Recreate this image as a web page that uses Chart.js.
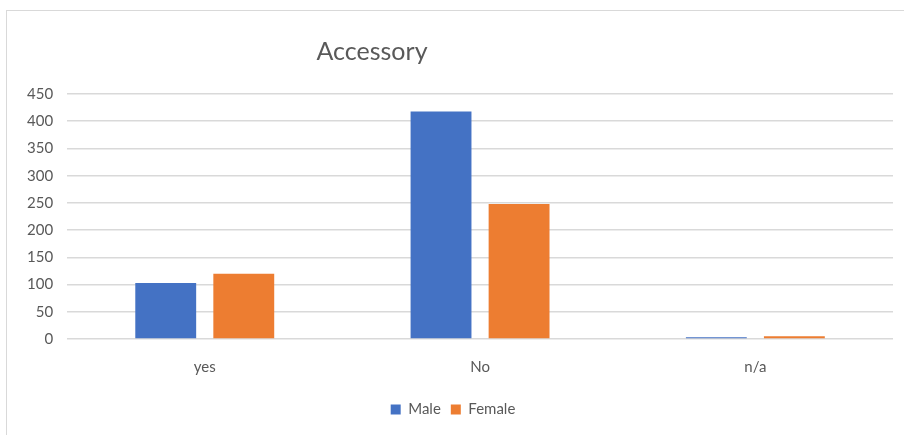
<!DOCTYPE html>
<html>
<head>
<meta charset="utf-8">
<script src="https://cdn.jsdelivr.net/npm/chart.js@4/dist/chart.umd.min.js"></script>
<style>
  html, body { margin: 0; padding: 0; background: #fff; }
  #wrap { position: relative; width: 904px; height: 435px; overflow: hidden; }
  #frame { position: absolute; left: 6px; top: 10px; width: 1000px; height: 1000px; border: 1px solid #d9d9d9; box-sizing: border-box; }
  canvas { position: absolute; left: 0; top: 0; }
</style>
</head>
<body>
<div id="wrap">
  <div id="frame"></div>
  <canvas id="bar-chart" width="904" height="435"></canvas>
</div>
<script>
const chartTitle = 'Accessory';
const categories = ['yes', 'No', 'n/a'];
const maleValues = [103, 418, 3];
const femaleValues = [120, 248, 5];
const yTicks = [0, 50, 100, 150, 200, 250, 300, 350, 400, 450];

const FONT = 'Lato, "Open Sans", sans-serif';

// title sits left of centre in the original, so draw it ourselves
const titlePlugin = {
  id: 'offsetTitle',
  afterDraw(chart) {
    const ctx = chart.ctx;
    ctx.save();
    ctx.font = '25px ' + FONT;
    ctx.fillStyle = '#595959';
    ctx.textAlign = 'center';
    ctx.textBaseline = 'middle';
    ctx.fillText(chartTitle, 372, 52);
    ctx.restore();
  }
};

new Chart(document.getElementById('bar-chart'), {
  type: 'bar',
  data: {
    labels: categories,
    datasets: [
      { label: 'Male', data: maleValues, backgroundColor: '#4472c4' },
      { label: 'Female', data: femaleValues, backgroundColor: '#ed7d31' }
    ]
  },
  options: {
    responsive: false,
    animation: false,
    devicePixelRatio: 1,
    categoryPercentage: 0.567,
    barPercentage: 0.78,
    layout: { padding: { left: 13, right: 11, top: 94, bottom: 8 } },
    plugins: {
      title: { display: false },
      tooltip: { enabled: false },
      legend: {
        position: 'bottom',
        labels: {
          font: { family: FONT, size: 15 },
          color: '#595959',
          boxWidth: 10,
          boxHeight: 10,
          padding: 10
        }
      }
    },
    scales: {
      x: {
        afterFit(scale) { scale.height += 5; },
        grid: { display: false },
        border: { display: false },
        ticks: { font: { family: FONT, size: 15 }, color: '#595959', padding: 11 }
      },
      y: {
        min: 0,
        max: 450,
        afterBuildTicks(scale) { scale.ticks = yTicks.map(v => ({ value: v })); },
        grid: { color: '#d9d9d9', lineWidth: 1.5, drawTicks: false },
        border: { display: false },
        ticks: { font: { family: FONT, size: 15 }, color: '#595959', padding: 14 }
      }
    }
  },
  plugins: [titlePlugin]
});
</script>
</body>
</html>
